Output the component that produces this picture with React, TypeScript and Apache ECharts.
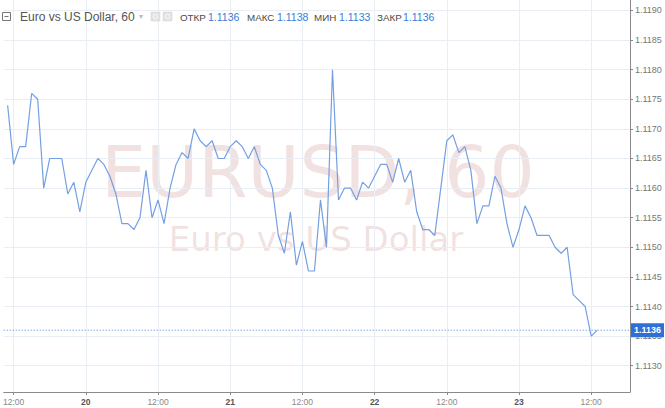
import { useEffect, useRef } from "react";
import * as echarts from "echarts";

// Hourly closes, EURUSD H1, starting 19th 11:00 (hours counted from 19th 00:00)
const startHour = 11;
const prices = [
  1.1174, 1.1164, 1.1167, 1.1167, 1.1176, 1.1175, 1.116, 1.1165, 1.1165, 1.1165,
  1.1159, 1.1161, 1.1156, 1.1161, 1.1163, 1.1165, 1.1164, 1.1162, 1.1159, 1.1154,
  1.1154, 1.1153, 1.1155, 1.1163, 1.1155, 1.1158, 1.1154, 1.116, 1.1164, 1.1166,
  1.1165, 1.117, 1.1168, 1.1167, 1.1168, 1.1165, 1.1165, 1.1167, 1.1168, 1.1167,
  1.1165, 1.1167, 1.1164, 1.1163, 1.116, 1.1152, 1.1149, 1.1156, 1.1147, 1.1151,
  1.1146, 1.1146, 1.1158, 1.115, 1.118, 1.1158, 1.116, 1.116, 1.1158, 1.1161,
  1.116, 1.1162, 1.1164, 1.1164, 1.1161, 1.1165, 1.1161, 1.1163, 1.1156, 1.1153,
  1.1153, 1.1152, 1.116, 1.1168, 1.1169, 1.1166, 1.1167, 1.1163, 1.1154, 1.1157,
  1.1157, 1.1162, 1.116, 1.1154, 1.115, 1.1153, 1.1157, 1.1155, 1.1152, 1.1152,
  1.1152, 1.115, 1.1149, 1.115, 1.1142, 1.1141, 1.114, 1.1135, 1.1136,
];

const xTickHours = [12, 24, 36, 48, 60, 72, 84, 96, 108];
const xTickLabels = ["12:00", "20", "12:00", "21", "12:00", "22", "12:00", "23", "12:00"];
const yTicks = [
  1.113, 1.1135, 1.114, 1.1145, 1.115, 1.1155, 1.116, 1.1165, 1.117, 1.1175,
  1.118, 1.1185, 1.119,
];
const lastPrice = 1.1136;
const title = "Euro vs US Dollar, 60";
const watermarkBig = "EURUSD, 60";
const watermarkSmall = "Euro vs US Dollar";
const statLabels = ["ОТКР", "МАКС", "МИН", "ЗАКР"];
const statValues = ["1.1136", "1.1138", "1.1133", "1.1136"];

const statLabelX = [180, 247, 314, 377];
const statValueX = [208, 277, 339, 403];

const X_MIN = 10.35;
const X_MAX = 114.45;

export default function App() {
  const ref = useRef<HTMLDivElement>(null);
  useEffect(() => {
    if (!ref.current) return;
    const chart = echarts.init(ref.current, null, { renderer: "svg" });
    const seriesData = prices.map((v, i) => [startHour + i, v]);
    const font = "Liberation Sans, Arial, sans-serif";
    const headerEls: any[] = [];
    headerEls.push({
      type: "rect",
      shape: { x: 2.5, y: 12.5, width: 8, height: 8 },
      style: { fill: "none", stroke: "#777", lineWidth: 1 },
      z: 100,
    });
    headerEls.push({
      type: "line",
      shape: { x1: 4.5, y1: 16.5, x2: 8.5, y2: 16.5 },
      style: { stroke: "#777", lineWidth: 1 },
      z: 100,
    });
    headerEls.push({
      type: "text",
      x: 20,
      y: 17,
      style: { text: title, fill: "#555", font: `12px ${font}`, verticalAlign: "middle", align: "left" },
      z: 100,
    });
    headerEls.push({
      type: "text",
      x: 139,
      y: 16,
      style: { text: "▾", fill: "#bbb", font: `8px ${font}`, verticalAlign: "middle", align: "left" },
      z: 100,
    });
    [151, 163].forEach((x) => {
      headerEls.push({
        type: "rect",
        shape: { x, y: 12, width: 9, height: 9 },
        style: { fill: "#e2e2e2", stroke: "#d0d0d0", lineWidth: 0.5 },
        z: 100,
      });
      headerEls.push({
        type: "circle",
        shape: { cx: x + 4.5, cy: 16.5, r: 2.2 },
        style: { fill: "none", stroke: "#fff", lineWidth: 1 },
        z: 101,
      });
    });
    statLabels.forEach((l, i) => {
      headerEls.push({
        type: "text",
        x: statLabelX[i],
        y: 17,
        style: { text: l, fill: "#4a4a4a", font: `9.8px ${font}`, verticalAlign: "middle", align: "left" },
        z: 100,
      });
      headerEls.push({
        type: "text",
        x: statValueX[i],
        y: 17,
        style: { text: statValues[i], fill: "#3a7bd5", font: `10.5px ${font}`, verticalAlign: "middle", align: "left" },
        z: 100,
      });
    });

    chart.setOption({
      animation: false,
      backgroundColor: "#ffffff",
      grid: { left: 0, right: 35, top: 0, bottom: 16, containLabel: false },
      xAxis: {
        type: "value",
        min: X_MIN,
        max: X_MAX,
        axisLine: { show: true, lineStyle: { color: "#8a8a8a", width: 1 } },
        axisTick: { show: true, customValues: xTickHours, length: 3, lineStyle: { color: "#8a8a8a" } },
        splitLine: { show: true, lineStyle: { color: "#e9eef4", width: 1 } },
        axisLabel: {
          customValues: xTickHours,
          margin: 5,
          fontSize: 8.5,
          fontFamily: font,
          color: "#777",
          formatter: (v: number) => {
            const idx = xTickHours.indexOf(Math.round(v));
            const t = idx >= 0 ? xTickLabels[idx] : "";
            return Math.round(v) % 24 === 0 ? `{b|${t}}` : `{n|${t}}`;
          },
          rich: {
            b: { fontWeight: "bold", color: "#555", fontSize: 8.5, fontFamily: font },
            n: { color: "#888", fontSize: 8.5, fontFamily: font },
          },
        },
      },
      yAxis: {
        type: "value",
        position: "right",
        min: 1.112556,
        max: 1.119177,
        scale: true,
        axisLine: { show: true, lineStyle: { color: "#8a8a8a", width: 1 } },
        axisTick: { show: true, customValues: yTicks, length: 3, lineStyle: { color: "#8a8a8a" } },
        splitLine: { show: true, lineStyle: { color: "#e9eef4", width: 1 } },
        axisLabel: {
          customValues: yTicks,
          margin: 5,
          fontSize: 9,
          fontFamily: font,
          color: "#777",
          formatter: (v: number) => v.toFixed(4),
        },
      },
      graphic: [
        {
          type: "text",
          x: 318,
          y: 172,
          z: 0,
          silent: true,
          style: {
            text: watermarkBig,
            fill: "rgba(195, 120, 120, 0.22)",
            font: `71px DejaVu Sans, sans-serif`,
            align: "center",
            verticalAlign: "middle",
          },
        },
        {
          type: "text",
          x: 316,
          y: 239,
          z: 0,
          silent: true,
          style: {
            text: watermarkSmall,
            fill: "rgba(195, 120, 120, 0.22)",
            font: `34px DejaVu Sans, sans-serif`,
            align: "center",
            verticalAlign: "middle",
          },
        },
        ...headerEls,
      ],
      series: [
        {
          type: "line",
          data: [
            [X_MIN, lastPrice],
            [X_MAX, lastPrice],
          ],
          symbol: "none",
          silent: true,
          z: 4,
          lineStyle: { color: "#4a84dc", type: [1, 2], width: 1 },
          endLabel: {
            show: true,
            distance: 1,
            formatter: () => lastPrice.toFixed(4),
            backgroundColor: "#2f6fd6",
            color: "#fff",
            fontSize: 9,
            fontWeight: "bold",
            fontFamily: font,
            padding: [3, 3, 2, 3],
          },
        },
        {
          type: "line",
          data: seriesData,
          showSymbol: false,
          symbol: "none",
          z: 5,
          lineStyle: { color: "#74a0e2", width: 1.2 },
        },
      ],
    });
    return () => chart.dispose();
  }, []);
  return (
    <div
      ref={ref}
      style={{ position: "fixed", left: 0, top: 0, width: 665, height: 408 }}
    />
  );
}
